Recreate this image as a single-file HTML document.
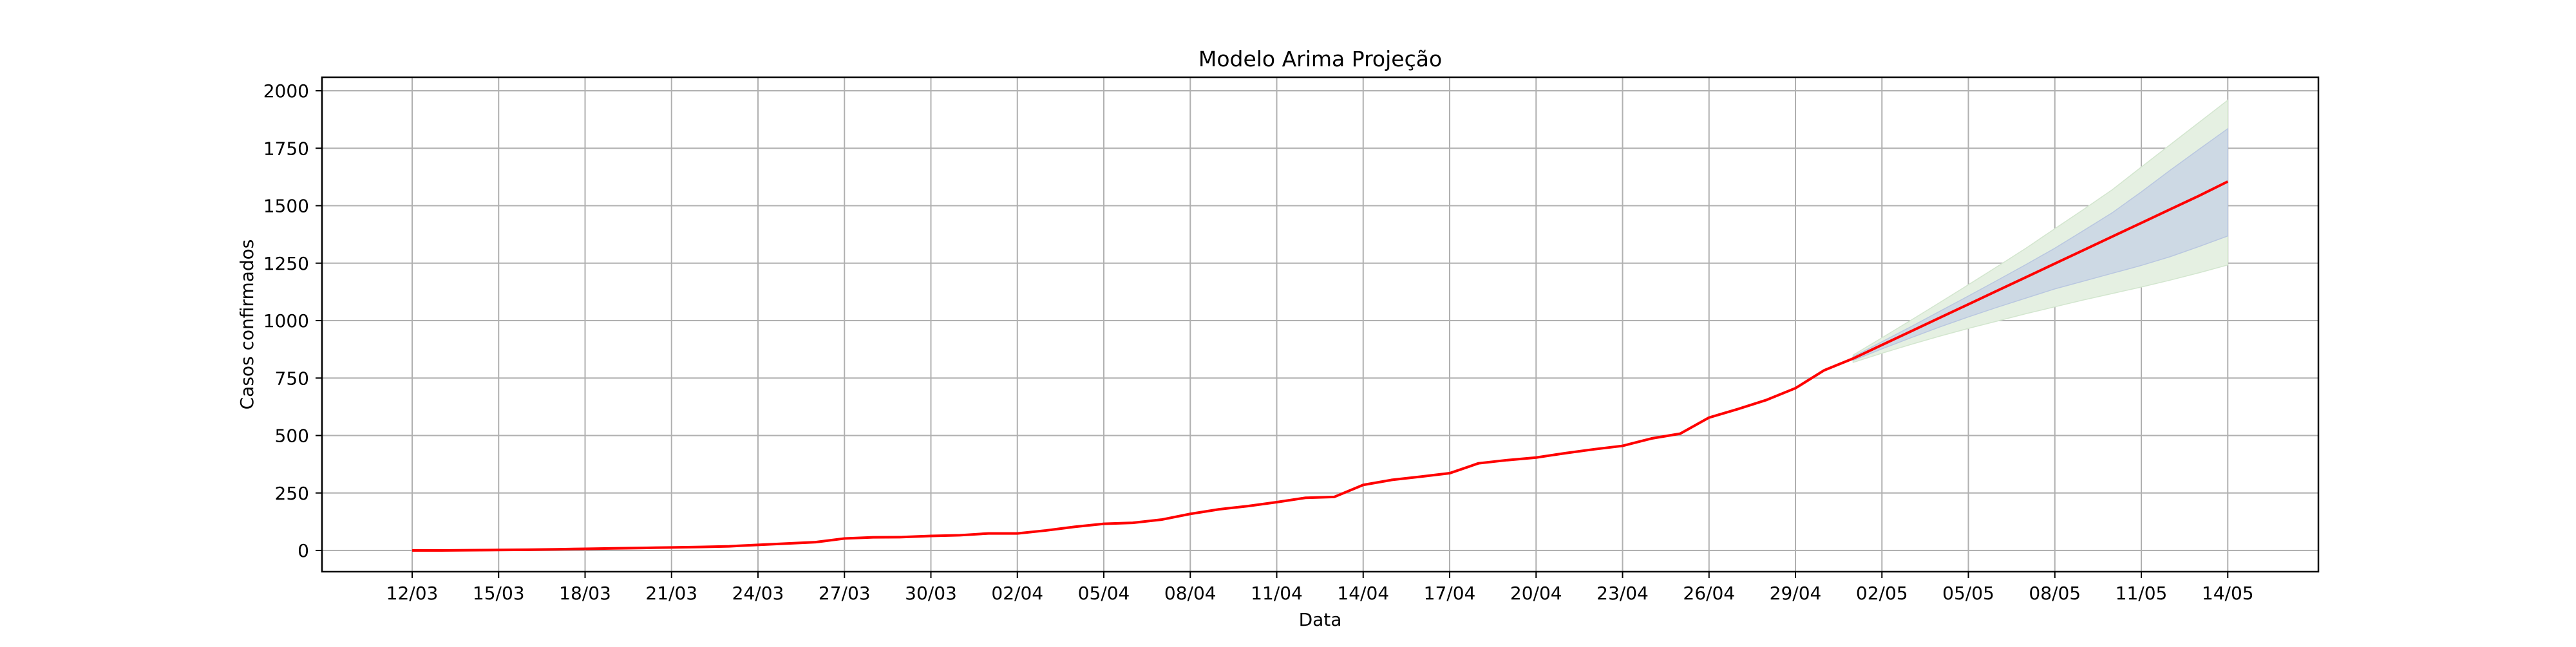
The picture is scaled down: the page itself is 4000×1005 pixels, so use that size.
<!DOCTYPE html>
<html><head><meta charset="utf-8"><style>
html,body{margin:0;padding:0;background:#fff;}
svg text{font-family:"DejaVu Sans","Liberation Sans",sans-serif;fill:#000;}
</style></head><body>
<svg id="chart" width="4000" height="1000" viewBox="0 0 4000 1000" xmlns="http://www.w3.org/2000/svg">
<rect width="4000" height="1000" fill="#fff"/>
<text x="2050" y="103" font-size="33" text-anchor="middle">Modelo Arima Projeção</text>
<g id="grid"></g>
<g id="bands"></g>
<g id="lines"></g>
<rect x="500" y="120" width="3100" height="768" fill="none" stroke="#000" stroke-width="2.5"/>
<g id="ticks"></g>
<text x="2050" y="972" font-size="28" text-anchor="middle">Data</text>
<text x="393" y="504" font-size="28" text-anchor="middle" transform="rotate(-90 393 504)">Casos confirmados</text>
</svg>
<script>
const xTickLabels = ["12/03","15/03","18/03","21/03","24/03","27/03","30/03","02/04","05/04","08/04","11/04","14/04","17/04","20/04","23/04","26/04","29/04","02/05","05/05","08/05","11/05","14/05"];
const yTicks = [0,250,500,750,1000,1250,1500,1750,2000];
// observed cases, one per day starting 12/03 (day 0)
const observed = [0,0,1,2,3,5,7,9,11,13,15,18,24,30,36,52,57,58,63,66,74,74,87,103,116,120,134,159,179,193,210,229,233,285,307,321,336,379,393,404,423,440,455,487,508,578,615,655,706,784,835];
const forecastStart = 50;
const forecast = [835,894,953,1012,1071,1130,1189,1248,1307,1366,1425,1484,1543,1605];
const upper95 = [850,925,1001,1078,1156,1235,1315,1400,1484,1570,1668,1765,1862,1959];
const upper80 = [843,908,973,1040,1107,1175,1244,1315,1392,1470,1560,1654,1745,1835];
const lower80 = [827,877,925,972,1016,1058,1098,1138,1172,1206,1240,1278,1322,1368];
const lower95 = [818,858,896,932,966,998,1030,1060,1090,1118,1146,1176,1208,1242];

const NS="http://www.w3.org/2000/svg";
const X0=640, PX_DAY=44.75, Y0=855, PX_UNIT=0.357;
function xs(d){return X0+d*PX_DAY;}
function ys(v){return Y0-v*PX_UNIT;}
function mk(tag,attrs,parent){const e=document.createElementNS(NS,tag);for(const k in attrs)e.setAttribute(k,attrs[k]);parent.appendChild(e);return e;}
const grid=document.getElementById('grid'),ticks=document.getElementById('ticks'),bands=document.getElementById('bands'),lines=document.getElementById('lines');

xTickLabels.forEach((lab,i)=>{
  const x=xs(i*3);
  const g=mk('line',{x1:x,x2:x,y1:120,y2:888,stroke:'#b0b0b0','stroke-width':2},grid);
  
  
  const t=mk('line',{x1:x,x2:x,y1:888,y2:898,stroke:'#000','stroke-width':2},ticks);
  
  
  const tx=mk('text',{x:x,y:931,'font-size':28,'text-anchor':'middle'},ticks);
  tx.textContent=lab;
  
  
});
yTicks.forEach(v=>{
  const y=ys(v);
  const g=mk('line',{x1:500,x2:3600,y1:y,y2:y,stroke:'#b0b0b0','stroke-width':2},grid);
  
  
  const t=mk('line',{x1:490,x2:500,y1:y,y2:y,stroke:'#000','stroke-width':2},ticks);
  
  
  const tx=mk('text',{x:480,y:y+10,'font-size':28,'text-anchor':'end'},ticks);
  tx.textContent=String(v);
  
  
});
function band(up,lo,fill,stroke,name){
  let pts=up.map((v,i)=>xs(forecastStart+i)+','+ys(v));
  for(let i=lo.length-1;i>=0;i--)pts.push(xs(forecastStart+i)+','+ys(lo[i]));
  const p=mk('polygon',{points:pts.join(' '),fill:fill,stroke:stroke,'stroke-width':1.5},bands);
  
  
}
band(upper95,lower95,'#e5f0e2','#d3e6cf','band-95');
band(upper80,lower80,'#cdd9e4','#b9c7e0','band-80');
const obsPts=observed.map((v,i)=>xs(i)+','+ys(v)).join(' ');
const l1=mk('polyline',{points:obsPts,fill:'none',stroke:'#ff0000','stroke-width':4,'stroke-linejoin':'round'},lines);


const fPts=forecast.map((v,i)=>xs(forecastStart+i)+','+ys(v)).join(' ');
const l2=mk('polyline',{points:fPts,fill:'none',stroke:'#ff0000','stroke-width':4,'stroke-linejoin':'round'},lines);


</script>
</body></html>
